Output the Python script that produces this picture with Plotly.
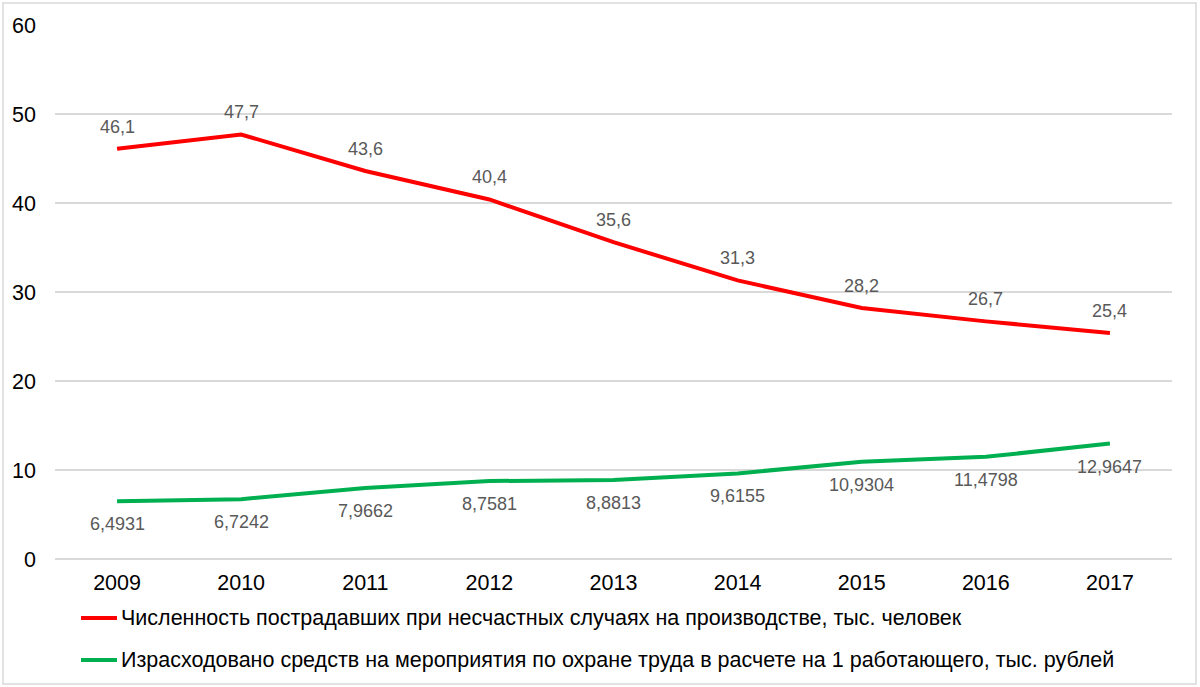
import plotly.graph_objects as go

years = ["2009", "2010", "2011", "2012", "2013", "2014", "2015", "2016", "2017"]
injured = [46.1, 47.7, 43.6, 40.4, 35.6, 31.3, 28.2, 26.7, 25.4]
spending = [6.4931, 6.7242, 7.9662, 8.7581, 8.8813, 9.6155, 10.9304, 11.4798, 12.9647]
injured_labels = ["46,1", "47,7", "43,6", "40,4", "35,6", "31,3", "28,2", "26,7", "25,4"]
spending_labels = ["6,4931", "6,7242", "7,9662", "8,7581", "8,8813", "9,6155", "10,9304", "11,4798", "12,9647"]
name_injured = "Численность пострадавших при несчастных случаях на производстве, тыс. человек"
name_spending = "Израсходовано средств на мероприятия по охране труда в расчете на 1 работающего, тыс. рублей"
series_names = [name_injured, name_spending]
series_colors = ["#FF0000", "#00B050"]

FONT = "Liberation Sans, Arial"
W, H = 1200, 687
ML, MR, MT, MB = 55, 28, 25, 128
PW, PH = W - ML - MR, H - MT - MB


def px_x(px):
    return (px - ML) / PW


def px_y(py):
    return (H - MB - py) / PH


fig = go.Figure()
fig.add_trace(go.Scatter(x=years, y=injured, mode="lines", name=name_injured,
                         line=dict(color=series_colors[0], width=4), showlegend=False))
fig.add_trace(go.Scatter(x=years, y=spending, mode="lines", name=name_spending,
                         line=dict(color=series_colors[1], width=4), showlegend=False))

for i, (v, t) in enumerate(zip(injured, injured_labels)):
    fig.add_annotation(x=i, y=v, text=t, showarrow=False, yshift=22,
                       font=dict(size=18, color="#595959", family=FONT))
for i, (v, t) in enumerate(zip(spending, spending_labels)):
    fig.add_annotation(x=i, y=v, text=t, showarrow=False, yshift=-23,
                       font=dict(size=18, color="#595959", family=FONT))

# legend (drawn manually below the plot)
legend_rows = [618, 660]
for name, color, row in zip(series_names, series_colors, legend_rows):
    fig.add_shape(type="line", xref="paper", yref="paper",
                  x0=px_x(81), x1=px_x(117), y0=px_y(row), y1=px_y(row),
                  line=dict(color=color, width=4))
    fig.add_annotation(xref="paper", yref="paper", x=px_x(119), y=px_y(row),
                       xanchor="left", yanchor="middle", text=name, showarrow=False,
                       font=dict(size=21.5, color="#000000", family=FONT))

# outer chart border
fig.add_shape(type="rect", xref="paper", yref="paper",
              x0=px_x(3), x1=px_x(1196), y0=px_y(684), y1=px_y(3),
              line=dict(color="#D9D9D9", width=1.5), fillcolor="rgba(0,0,0,0)", layer="below")

fig.update_layout(
    width=W, height=H,
    margin=dict(l=ML, r=MR, t=MT, b=MB),
    paper_bgcolor="white", plot_bgcolor="white",
    font=dict(family=FONT, size=21.5, color="#000000"),
    xaxis=dict(type="category", range=[-0.5, 8.5], showgrid=False, showline=False, ticks="",
               tickfont=dict(size=21.5, color="#000000"), ticklabelstandoff=8,
               automargin=False),
    yaxis=dict(range=[0, 60], dtick=10, showgrid=True, gridcolor="#D9D9D9",
               gridwidth=1.5, zeroline=True, zerolinecolor="#D9D9D9", zerolinewidth=1.5,
               showline=False, ticks="", tickfont=dict(size=21.5, color="#000000"),
               ticklabelstandoff=18, automargin=False),
    showlegend=False,
)

fig.write_html("out.html", config={"displayModeBar": False},
               post_script="document.body.style.margin='0';")
